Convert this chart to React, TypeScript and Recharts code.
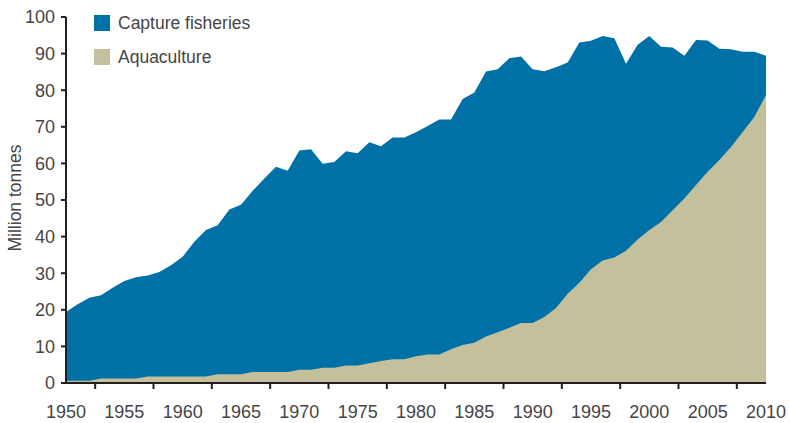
import React from 'react';
import { AreaChart, Area, XAxis, YAxis, Legend } from 'recharts';

const years = [
  1950, 1951, 1952, 1953, 1954, 1955, 1956, 1957, 1958, 1959,
  1960, 1961, 1962, 1963, 1964, 1965, 1966, 1967, 1968, 1969,
  1970, 1971, 1972, 1973, 1974, 1975, 1976, 1977, 1978, 1979,
  1980, 1981, 1982, 1983, 1984, 1985, 1986, 1987, 1988, 1989,
  1990, 1991, 1992, 1993, 1994, 1995, 1996, 1997, 1998, 1999,
  2000, 2001, 2002, 2003, 2004, 2005, 2006, 2007, 2008, 2009,
  2010,
];

// million tonnes
const capture = [
  19.4, 21.5, 23.3, 24.0, 26.0, 27.9, 28.9, 29.4, 30.3, 32.2,
  34.5, 38.6, 41.8, 43.1, 47.4, 48.7, 52.5, 55.9, 59.1, 58.0,
  63.5, 63.9, 59.9, 60.4, 63.3, 62.8, 65.8, 64.7, 67.1, 67.1,
  68.5, 70.2, 72.0, 72.0, 77.6, 79.4, 85.1, 85.7, 88.7, 89.2,
  85.7, 85.2, 86.3, 87.6, 93.0, 93.5, 94.8, 94.2, 87.2, 92.4,
  94.8, 91.9, 91.7, 89.4, 93.7, 93.6, 91.3, 91.2, 90.5, 90.5,
  89.4,
];

const aquaculture = [
  0.6, 0.6, 0.6, 1.2, 1.2, 1.2, 1.2, 1.8, 1.8, 1.8,
  1.8, 1.8, 1.8, 2.4, 2.4, 2.4, 3.0, 3.0, 3.0, 3.0,
  3.6, 3.6, 4.2, 4.2, 4.8, 4.8, 5.4, 6.0, 6.5, 6.5,
  7.3, 7.8, 7.8, 9.2, 10.4, 11.0, 12.7, 13.9, 15.1, 16.4,
  16.4, 18.0, 20.5, 24.4, 27.4, 31.1, 33.5, 34.3, 36.1, 39.2,
  41.8, 44.0, 47.2, 50.4, 54.1, 57.7, 60.9, 64.5, 68.6, 72.7,
  78.7,
];

// labels every 5 years, tick marks sit half-way between them
const xTicks = [
  1950, 1952.5, 1955, 1957.5, 1960, 1962.5, 1965, 1967.5, 1970, 1972.5,
  1975, 1977.5, 1980, 1982.5, 1985, 1987.5, 1990, 1992.5, 1995, 1997.5,
  2000, 2002.5, 2005, 2007.5, 2010,
];
const yTicks = [0, 10, 20, 30, 40, 50, 60, 70, 80, 90, 100];

const BLUE = '#0071a7';
const KHAKI = '#c4c09c';
const AXIS = '#231f20';
const TEXT = '#454545';
const FONT = '"Liberation Sans", Arial, sans-serif';

const data = years.map((year, i) => ({
  year,
  capture: capture[i],
  aquaculture: aquaculture[i],
}));

const legendItems = [
  { name: 'Capture fisheries', color: BLUE },
  { name: 'Aquaculture', color: KHAKI },
];

const XTick = (props: any) => {
  const { x, y, payload } = props;
  if (payload.value % 5 !== 0) {
    return <line x1={x} y1={y} x2={x} y2={y + 6} stroke={AXIS} strokeWidth={2} />;
  }
  return (
    <text x={x} y={y + 35} textAnchor="middle" fontSize={18} fill={TEXT} fontFamily={FONT}>
      {payload.value}
    </text>
  );
};

const renderYLabel = () => (
  <text
    transform="translate(21,198) rotate(-90)"
    textAnchor="middle"
    fontSize={17.5}
    fill={TEXT}
    fontFamily={FONT}
  >
    Million tonnes
  </text>
);

const renderLegend = () => (
  <div style={{ fontFamily: FONT }}>
    {legendItems.map((item) => (
      <div
        key={item.name}
        style={{ display: 'flex', alignItems: 'center', height: 16, marginBottom: 18 }}
      >
        <span style={{ width: 16, height: 16, background: item.color, display: 'inline-block' }} />
        <span style={{ marginLeft: 8, fontSize: 17.5, color: TEXT, lineHeight: '16px' }}>
          {item.name}
        </span>
      </div>
    ))}
  </div>
);

export default function App() {
  return (
    <div style={{ position: 'absolute', left: 0, top: 0, background: '#fff' }}>
      <AreaChart
        width={789}
        height={423}
        data={data}
        margin={{ top: 17, right: 23, bottom: 0, left: 0 }}
      >
        <XAxis
          dataKey="year"
          type="number"
          domain={[1950, 2010]}
          ticks={xTicks}
          interval={0}
          height={40}
          tickSize={0}
          tickMargin={0}
          tickLine={false}
          tick={<XTick />}
          axisLine={{ stroke: AXIS, strokeWidth: 2 }}
        />
        <YAxis
          type="number"
          domain={[0, 100]}
          ticks={yTicks}
          interval={0}
          width={66}
          tickSize={5}
          tickMargin={6}
          tickLine={{ stroke: AXIS, strokeWidth: 2 }}
          axisLine={{ stroke: AXIS, strokeWidth: 2 }}
          tick={{ fontSize: 18, fill: TEXT, fontFamily: FONT }}
          label={{ content: renderYLabel }}
        />
        <Legend
          layout="vertical"
          align="center"
          verticalAlign="middle"
          content={renderLegend}
          wrapperStyle={{ left: 94, top: 15, width: 260, height: 70 }}
        />
        <Area
          type="linear"
          dataKey="capture"
          name="Capture fisheries"
          fill={BLUE}
          fillOpacity={1}
          stroke="none"
          isAnimationActive={false}
        />
        <Area
          type="linear"
          dataKey="aquaculture"
          name="Aquaculture"
          fill={KHAKI}
          fillOpacity={1}
          stroke="none"
          isAnimationActive={false}
        />
      </AreaChart>
    </div>
  );
}
